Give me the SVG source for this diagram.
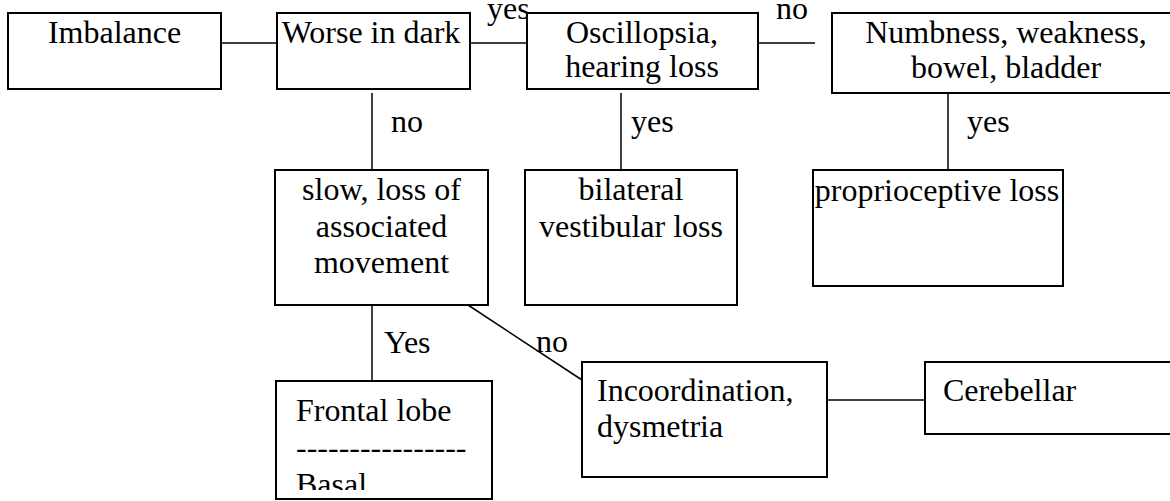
<svg xmlns="http://www.w3.org/2000/svg" width="1170" height="501" viewBox="0 0 1170 501">
<style>
.box{fill:#fff;stroke:#000;stroke-width:2}
.con{stroke:#000;stroke-width:1.5;fill:none}
.t{font-family:'Liberation Serif','DejaVu Serif','Times New Roman',serif;font-size:32px;fill:#000}
.c{text-anchor:middle}
</style>
<defs>
<clipPath id="frontClip"><rect x="276" y="381" width="216" height="109"/></clipPath>
</defs>
<rect width="1170" height="501" fill="#fff"/>
<g id="connectors">
<line class="con" x1="221" y1="43" x2="277" y2="43"/>
<line class="con" x1="470" y1="43" x2="527" y2="43"/>
<line class="con" x1="758" y1="43" x2="815" y2="43"/>
<line class="con" x1="372" y1="93" x2="372" y2="170"/>
<line class="con" x1="621" y1="93" x2="621" y2="170"/>
<line class="con" x1="948" y1="93" x2="948" y2="170"/>
<line class="con" x1="372" y1="305" x2="372" y2="381"/>
<line class="con" x1="468" y1="305" x2="582" y2="380"/>
<line class="con" x1="827" y1="400" x2="925" y2="400"/>
<text class="t" x="487" y="19">yes</text>
<text class="t" x="776" y="19">no</text>
<text class="t" x="391" y="132">no</text>
<text class="t" x="631" y="132">yes</text>
<text class="t" x="967" y="132">yes</text>
<text class="t" x="384" y="353">Yes</text>
<text class="t" x="536" y="352">no</text>
</g>
<g id="imbalance">
<rect class="box" x="8" y="13" width="213" height="76"/>
<text class="t c" x="114.5" y="43">Imbalance</text>
</g>
<g id="worse-in-dark">
<rect class="box" x="277" y="13" width="193" height="76"/>
<text class="t c" x="371" y="43">Worse in dark</text>
</g>
<g id="oscillopsia">
<rect class="box" x="527" y="13" width="231" height="76"/>
<text class="t c" x="642" y="43">Oscillopsia,</text>
<text class="t c" x="642" y="77">hearing loss</text>
</g>
<g id="numbness">
<rect class="box" x="832" y="13" width="348" height="80"/>
<text class="t c" x="1006" y="43">Numbness, weakness,</text>
<text class="t c" x="1006" y="78">bowel, bladder</text>
</g>
<g id="slow">
<rect class="box" x="275" y="170" width="213" height="135"/>
<text class="t c" x="381.5" y="200">slow, loss of</text>
<text class="t c" x="381.5" y="237">associated</text>
<text class="t c" x="381.5" y="273">movement</text>
</g>
<g id="bilateral">
<rect class="box" x="525" y="170" width="212" height="135"/>
<text class="t c" x="631" y="200">bilateral</text>
<text class="t c" x="631" y="237">vestibular loss</text>
</g>
<g id="proprioceptive">
<rect class="box" x="813" y="170" width="250" height="116"/>
<text class="t c" x="937" y="201">proprioceptive loss</text>
</g>
<g id="frontal">
<rect class="box" x="276" y="381" width="216" height="118"/>
<g clip-path="url(#frontClip)">
<text class="t" x="296" y="421">Frontal lobe</text>
<text class="t" x="296" y="458">----------------</text>
<text class="t" x="296" y="495">Basal</text>
</g>
</g>
<g id="incoordination">
<rect class="box" x="582" y="362" width="245" height="115"/>
<text class="t" x="597" y="401">Incoordination,</text>
<text class="t" x="597" y="437">dysmetria</text>
</g>
<g id="cerebellar">
<rect class="box" x="925" y="362" width="255" height="72"/>
<text class="t" x="943" y="401">Cerebellar</text>
</g>
</svg>
